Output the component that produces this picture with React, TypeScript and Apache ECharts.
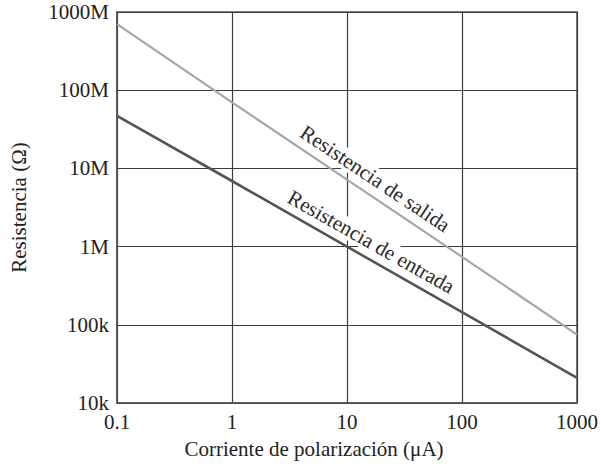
import React, { useEffect, useRef } from "react";
import * as echarts from "echarts";

const xTicks = [0.1, 1, 10, 100, 1000];
const xTickLabels = ["0.1", "1", "10", "100", "1000"];
const yTicks = [1e4, 1e5, 1e6, 1e7, 1e8, 1e9];
const yTickLabels = ["10k", "100k", "1M", "10M", "100M", "1000M"];

const currentUA = [0.1, 1, 10, 100, 1000];
const outputResistance = [7.0e8, 7.0e7, 7.2e6, 7.4e5, 7.5e4];
const inputResistance = [4.7e7, 6.9e6, 1.0e6, 1.45e5, 2.1e4];

const labelSalida = { text: "Resistencia de salida", x: 17.6, y: 7.4e6, rot: 33.7 };
const labelEntrada = { text: "Resistencia de entrada", x: 16.2, y: 1.15e6, rot: 29.5 };

const FONT = "'Liberation Serif', 'Times New Roman', serif";
const FS = 21;

function fmt(vals: number[], labels: string[]) {
  return (v: number) => {
    for (let i = 0; i < vals.length; i++) {
      if (Math.abs(Math.log10(v) - Math.log10(vals[i])) < 1e-6) return labels[i];
    }
    return "";
  };
}

export default function App() {
  const ref = useRef<HTMLDivElement>(null);
  useEffect(() => {
    document.body.style.margin = "0";
    if (!ref.current) return;
    const chart = echarts.init(ref.current, null, { renderer: "svg" });
    const gridColor = "#3c3c3c";
    chart.setOption({
      animation: false,
      grid: {
        left: 117,
        top: 12,
        right: 20,
        bottom: 68,
        show: true,
        borderColor: "#555",
        borderWidth: 1.5,
      },
      xAxis: {
        type: "log",
        logBase: 10,
        min: 0.1,
        max: 1000,
        name: "Corriente de polarización (μA)",
        nameLocation: "middle",
        nameGap: 35,
        nameTextStyle: { fontFamily: FONT, fontSize: FS, color: "#222", padding: [0, 66, 0, 0] },
        axisLine: { show: true, lineStyle: { color: "#555", width: 1.5 } },
        axisTick: { show: false },
        minorTick: { show: false },
        axisLabel: {
          fontFamily: FONT,
          fontSize: FS,
          color: "#222",
          margin: 8,
          formatter: fmt(xTicks, xTickLabels),
        },
        splitLine: { show: true, lineStyle: { color: gridColor, width: 1.2 } },
      },
      yAxis: {
        type: "log",
        logBase: 10,
        min: 1e4,
        max: 1e9,
        name: "Resistencia (Ω)",
        nameLocation: "middle",
        nameGap: 88,
        nameRotate: 90,
        nameTextStyle: { fontFamily: FONT, fontSize: FS, color: "#222" },
        axisLine: { show: true, lineStyle: { color: "#555", width: 1.5 } },
        axisTick: { show: false },
        axisLabel: {
          fontFamily: FONT,
          fontSize: FS,
          color: "#222",
          margin: 8,
          formatter: fmt(yTicks, yTickLabels),
        },
        splitLine: { show: true, lineStyle: { color: gridColor, width: 1.2 } },
      },
      series: [
        {
          type: "line",
          name: "Resistencia de salida",
          data: currentUA.map((x, i) => [x, outputResistance[i]]),
          showSymbol: false,
          lineStyle: { color: "#a6a6a6", width: 2.2 },
          z: 3,
        },
        {
          type: "line",
          name: "Resistencia de entrada",
          data: currentUA.map((x, i) => [x, inputResistance[i]]),
          showSymbol: false,
          lineStyle: { color: "#555555", width: 2.6 },
          z: 3,
        },
      ],
    });
    const mk = (l: { text: string; x: number; y: number; rot: number }) => {
      const p = chart.convertToPixel({ xAxisIndex: 0, yAxisIndex: 0 }, [l.x, l.y]) as number[];
      return {
        type: "text",
        x: p[0],
        y: p[1],
        rotation: (-l.rot * Math.PI) / 180,
        z: 10,
        style: {
          text: l.text,
          fontFamily: FONT,
          fontSize: FS,
          fill: "#2a2a2a",
          align: "center",
          verticalAlign: "middle",
          backgroundColor: "#fff",
          padding: [0, 2],
        },
      };
    };
    chart.setOption({ graphic: [mk(labelSalida), mk(labelEntrada)] });
    return () => chart.dispose();
  }, []);
  return <div ref={ref} style={{ width: 601, height: 471 }} />;
}
